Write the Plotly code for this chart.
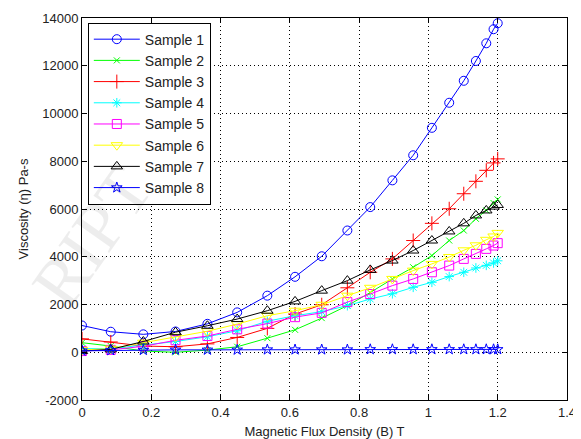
import plotly.graph_objects as go

# Magnetic flux density (T)
flux_density = [0, 0.083, 0.177, 0.27, 0.362, 0.448, 0.535, 0.615, 0.692, 0.766,
                0.832, 0.896, 0.956, 1.01, 1.06, 1.102, 1.137, 1.167, 1.188, 1.2]

sample_1 = [1120, 860, 750, 870, 1190, 1670, 2370, 3160, 4020, 5100,
            6080, 7200, 8250, 9400, 10450, 11370, 12200, 12940, 13530, 13780]
sample_2 = [400, 260, 50, 0, 90, 230, 590, 940, 1430, 1950,
            2500, 3070, 3560, 4050, 4680, 5100, 5590, 5940, 6250, 6400]
sample_3 = [560, 430, 260, 230, 350, 620, 1000, 1600, 1990, 2700,
            3350, 3910, 4680, 5400, 6010, 6640, 7160, 7620, 7930, 8100]
sample_4 = [150, 150, 300, 450, 650, 900, 1300, 1530, 1700, 1950,
            2230, 2450, 2720, 2930, 3170, 3350, 3530, 3640, 3740, 3830]
sample_5 = [50, 100, 250, 500, 680, 960, 1200, 1470, 1650, 2100,
            2440, 2790, 3070, 3350, 3630, 3910, 4120, 4330, 4470, 4570]
sample_6 = [100, 150, 400, 650, 880, 1180, 1530, 1740, 1990, 2370,
            2700, 3070, 3420, 3700, 3990, 4270, 4480, 4710, 4850, 5000]
sample_7 = [50, 120, 450, 840, 1110, 1390, 1740, 2130, 2580, 3000,
            3450, 3840, 4260, 4680, 5060, 5400, 5730, 5940, 6100, 6170]
sample_8 = [60, 80, 90, 100, 100, 100, 110, 110, 110, 110,
            120, 120, 120, 120, 120, 120, 120, 120, 120, 120]

series_names = ["Sample 1", "Sample 2", "Sample 3", "Sample 4",
                "Sample 5", "Sample 6", "Sample 7", "Sample 8"]
series_values = [sample_1, sample_2, sample_3, sample_4,
                 sample_5, sample_6, sample_7, sample_8]

x_tick_vals = [0, 0.2, 0.4, 0.6, 0.8, 1.0, 1.2, 1.4]
x_tick_text = ["0", "0.2", "0.4", "0.6", "0.8", "1", "1.2", "1.4"]
y_tick_vals = [-2000, 0, 2000, 4000, 6000, 8000, 10000, 12000, 14000]
y_tick_text = ["-2000", "0", "2000", "4000", "6000", "8000", "10000", "12000", "14000"]

colors = ["#0000ff", "#00ff00", "#ff0000", "#00ffff",
          "#ff00ff", "#ffff00", "#000000", "#0000ff"]
symbols = ["circle-open", "x-thin-open", "cross-thin-open", "asterisk-open",
           "square-open", "triangle-down-open", "triangle-up-open", "star-open"]
sizes = [9, 6, 10, 8, 9, 10, 10, 8]

fig = go.Figure()
for name, vals, c, s, sz in zip(series_names, series_values, colors, symbols, sizes):
    fig.add_trace(go.Scatter(
        x=flux_density, y=vals, name=name, mode="lines+markers",
        line=dict(color=c, width=1),
        marker=dict(symbol=s, size=sz, color=c, line=dict(color=c, width=1)),
    ))

# faint watermark fragment
fig.add_annotation(text="RIPT", x=-0.14, y=0.2, xref="paper", yref="paper",
                   showarrow=False, textangle=-55,
                   font=dict(family="Liberation Serif", size=70, color="rgba(0,0,0,0.07)"))

axis_common = dict(
    showline=True, linecolor="black", linewidth=1, mirror="ticks",
    ticks="inside", ticklen=5, tickcolor="black",
    showgrid=True, gridcolor="black", griddash="1px,3px", gridwidth=1,
    zeroline=False, automargin=False,
    tickfont=dict(family="Liberation Sans", size=13, color="#222"),
)

fig.update_xaxes(range=[0, 1.4], tickvals=x_tick_vals, ticktext=x_tick_text,
                 title=dict(text="Magnetic Flux Density (B) T", standoff=14,
                            font=dict(family="Liberation Sans", size=13, color="#222")),
                 **axis_common)
fig.update_yaxes(range=[-2000, 14000], tickvals=y_tick_vals, ticktext=y_tick_text,
                 title=dict(text="Viscosity (η) Pa-s", standoff=10,
                            font=dict(family="Liberation Sans", size=13, color="#222")),
                 **axis_common)

# page body adds an 8px offset, so the figure is sized to fill the rest of the window
fig.update_layout(
    width=573, height=431,
    margin=dict(l=74, r=14, t=10, b=39),
    paper_bgcolor="white", plot_bgcolor="white",
    showlegend=True,
    legend=dict(x=0.012, y=0.988, xanchor="left", yanchor="top",
                bgcolor="white", bordercolor="black", borderwidth=1,
                font=dict(family="Liberation Sans", size=14, color="#222"),
                tracegroupgap=0, itemwidth=46),
)

fig.write_html("out.html")
